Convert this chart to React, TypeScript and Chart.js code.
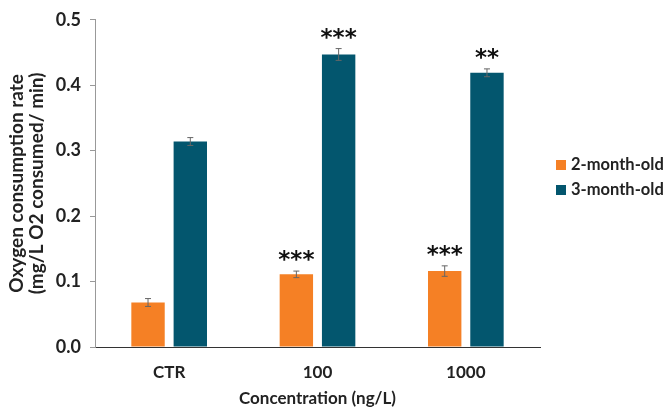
import React, { useEffect, useRef } from "react";
import { Chart, registerables } from "chart.js";

Chart.register(...registerables);

const categories = ["CTR", "100", "1000"];
const series2Month = [0.068, 0.111, 0.116];
const series3Month = [0.314, 0.447, 0.419];
const err2Month = [0.006, 0.005, 0.008];
const err3Month = [0.006, 0.009, 0.006];
const sig2Month = ["", "***", "***"];
const sig3Month = ["", "***", "**"];
const yTicks = [0, 0.1, 0.2, 0.3, 0.4, 0.5];
const seriesNames = ["2-month-old", "3-month-old"];
const colors = ["#F58025", "#03566E"];

const FONT = "Lato, 'Open Sans', sans-serif";

const errorPlugin = {
  id: "errorBars",
  afterDatasetsDraw(chart: any) {
    const ctx = chart.ctx;
    const yScale = chart.scales.y;
    const errs = [err2Month, err3Month];
    const sigs = [sig2Month, sig3Month];
    chart.data.datasets.forEach((ds: any, di: number) => {
      const meta = chart.getDatasetMeta(di);
      meta.data.forEach((bar: any, i: number) => {
        const v = ds.data[i];
        const e = errs[di][i];
        const x = bar.x;
        const yTop = yScale.getPixelForValue(v + e);
        const yBot = yScale.getPixelForValue(v - e);
        ctx.save();
        ctx.strokeStyle = "#666";
        ctx.lineWidth = 1;
        ctx.beginPath();
        ctx.moveTo(x, yTop);
        ctx.lineTo(x, yBot);
        ctx.moveTo(x - 3, yTop);
        ctx.lineTo(x + 3, yTop);
        ctx.moveTo(x - 3, yBot);
        ctx.lineTo(x + 3, yBot);
        ctx.stroke();
        const s = sigs[di][i];
        if (s) {
          ctx.fillStyle = "#111";
          ctx.font = "bold 23px 'DejaVu Sans', sans-serif";
          ctx.textAlign = "center";
          ctx.textBaseline = "middle";
          ctx.fillText(s, x, yTop - 10);
        }
        ctx.restore();
      });
    });
  },
};

const legendPlugin = {
  id: "customLegend",
  afterDraw(chart: any) {
    const ctx = chart.ctx;
    ctx.save();
    const x0 = 556;
    const ys = [165, 190];
    seriesNames.forEach((n, i) => {
      ctx.fillStyle = colors[i];
      ctx.fillRect(x0, ys[i] - 5, 10, 10);
      ctx.fillStyle = "#222";
      ctx.font = `bold 16.5px ${FONT}`;
      ctx.textAlign = "left";
      ctx.textBaseline = "middle";
      ctx.fillText(n, x0 + 15, ys[i]);
    });
    ctx.restore();
  },
};

export default function App() {
  const ref = useRef<HTMLCanvasElement>(null);
  useEffect(() => {
    document.body.style.margin = "0";
    const chart = new Chart(ref.current!, {
      type: "bar",
      data: {
        labels: categories,
        datasets: [
          {
            label: seriesNames[0],
            data: series2Month,
            backgroundColor: colors[0],
            categoryPercentage: 0.57,
            barPercentage: 0.79,
          },
          {
            label: seriesNames[1],
            data: series3Month,
            backgroundColor: colors[1],
            categoryPercentage: 0.57,
            barPercentage: 0.79,
          },
        ],
      },
      options: {
        animation: false,
        responsive: false,
        maintainAspectRatio: false,
        layout: { padding: { left: 0, right: 131, top: 19, bottom: 0 } },
        plugins: { legend: { display: false }, tooltip: { enabled: false } },
        scales: {
          x: {
            grid: { display: false, drawTicks: false },
            border: { color: "#333", width: 1 },
            ticks: {
              color: "#222",
              font: { family: FONT, size: 17, weight: "bold" },
              padding: 15,
            },
            title: {
              display: true,
              text: "Concentration (ng/L)",
              color: "#222",
              font: { family: FONT, size: 17, weight: "bold" },
              padding: { top: 4, bottom: 1 },
            },
            afterFit: (s: any) => {
              s.height = 63;
            },
          },
          y: {
            min: 0,
            max: 0.5,
            afterBuildTicks: (s: any) => {
              s.ticks = yTicks.map((v) => ({ value: v }));
            },
            grid: {
              display: true,
              drawOnChartArea: false,
              drawTicks: true,
              tickLength: 5,
              color: "#999",
            },
            border: { color: "#999", width: 1 },
            ticks: {
              color: "#222",
              font: { family: FONT, size: 18, weight: "bold" },
              padding: 9,
              callback: (v: any) => Number(v).toFixed(1),
            },
            title: {
              display: true,
              text: ["Oxygen consumption rate", "(mg/L O2 consumed/ min)"],
              color: "#222",
              font: { family: FONT, size: 19, weight: "bold", lineHeight: 1.1 },
              padding: { top: 6, bottom: 4 },
            },
            afterFit: (s: any) => {
              s.width = 95;
            },
          },
        },
      },
      plugins: [errorPlugin, legendPlugin],
    });
    return () => chart.destroy();
  }, []);
  return (
    <div style={{ position: "absolute", left: 0, top: 0, width: 671, height: 410, background: "#fff" }}>
      <canvas ref={ref} width={671} height={410} />
    </div>
  );
}
